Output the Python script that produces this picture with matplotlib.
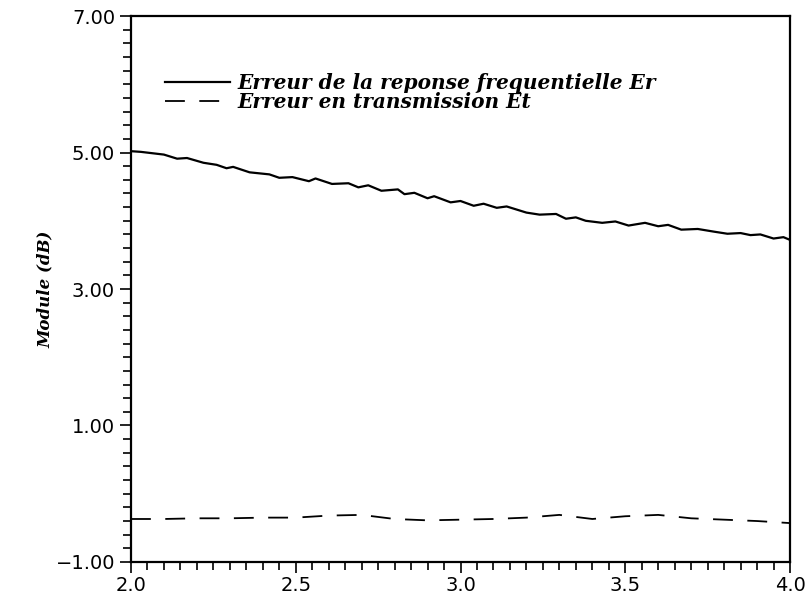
import numpy as np
import matplotlib
matplotlib.use("Agg")
import matplotlib.pyplot as plt
from matplotlib.ticker import MultipleLocator, FuncFormatter

# frequency axis (GHz) and the two error curves
freq_er = [2.00, 2.03, 2.10, 2.14, 2.17, 2.22, 2.26, 2.29, 2.31, 2.36, 2.42,
           2.45, 2.49, 2.54, 2.56, 2.61, 2.66, 2.69, 2.72, 2.76, 2.81, 2.83,
           2.86, 2.90, 2.92, 2.97, 3.00, 3.04, 3.07, 3.11, 3.14, 3.20, 3.24,
           3.29, 3.32, 3.35, 3.38, 3.43, 3.47, 3.51, 3.56, 3.60, 3.63, 3.67,
           3.72, 3.77, 3.81, 3.85, 3.88, 3.91, 3.95, 3.98, 4.00]
err_er = [5.02, 5.01, 4.97, 4.91, 4.92, 4.85, 4.82, 4.77, 4.79, 4.71, 4.68,
          4.63, 4.64, 4.58, 4.62, 4.54, 4.55, 4.49, 4.52, 4.44, 4.46, 4.39,
          4.41, 4.33, 4.36, 4.27, 4.29, 4.22, 4.25, 4.19, 4.21, 4.12, 4.09,
          4.10, 4.03, 4.05, 4.00, 3.97, 3.99, 3.93, 3.97, 3.92, 3.94, 3.87,
          3.88, 3.84, 3.81, 3.82, 3.79, 3.80, 3.74, 3.76, 3.72]

freq_et = [2.0, 2.1, 2.2, 2.3, 2.4, 2.5, 2.6, 2.7, 2.8, 2.9, 3.0,
           3.1, 3.2, 3.3, 3.4, 3.5, 3.6, 3.7, 3.8, 3.9, 4.0]
err_et = [-0.37, -0.37, -0.36, -0.36, -0.35, -0.35, -0.32, -0.31, -0.37,
          -0.39, -0.38, -0.37, -0.35, -0.31, -0.37, -0.33, -0.31, -0.36,
          -0.38, -0.40, -0.43]

y_ticks = [-1.0, 1.0, 3.0, 5.0, 7.0]

label_er = "Erreur de la reponse frequentielle Er"
label_et = "Erreur en transmission Et"

fig = plt.figure(figsize=(8.05, 5.95), dpi=100)
ax = fig.add_axes([0.1627, 0.0555, 0.8187, 0.9175])

ax.plot(freq_er, err_er, color="black", lw=1.6, label=label_er)
ax.plot(freq_et, err_et, color="black", lw=1.3, dashes=(11, 8), label=label_et)

ax.set_xlim(2.0, 4.0)
ax.set_ylim(-1.0, 7.0)
ax.xaxis.set_major_locator(MultipleLocator(0.5))
ax.xaxis.set_minor_locator(MultipleLocator(0.05))
ax.set_yticks(y_ticks)
ax.yaxis.set_minor_locator(MultipleLocator(0.2))
ax.xaxis.set_major_formatter(FuncFormatter(lambda v, p: f"{v:.1f}"))
ax.yaxis.set_major_formatter(
    FuncFormatter(lambda v, p: f"{v:.2f}".replace("-", "\u2212")))

ax.tick_params(which="both", direction="out", width=1.2, labelsize=14,
               top=False, right=False)
ax.tick_params(which="major", length=8)
ax.tick_params(which="minor", length=6)
ax.tick_params(axis="x", pad=2)
for s in ax.spines.values():
    s.set_linewidth(1.6)

ax.set_ylabel("Module (dB)", fontsize=12, family="DejaVu Serif",
              fontweight="bold", fontstyle="italic", labelpad=1)

leg = ax.legend(loc="upper left", bbox_to_anchor=(0.04, 0.91), frameon=False,
                handlelength=3.2, handletextpad=0.4, labelspacing=-0.05,
                borderaxespad=0,
                prop={"family": "DejaVu Serif", "weight": "bold",
                      "style": "italic", "size": 14.5})

fig.savefig("out.png", dpi=100)
